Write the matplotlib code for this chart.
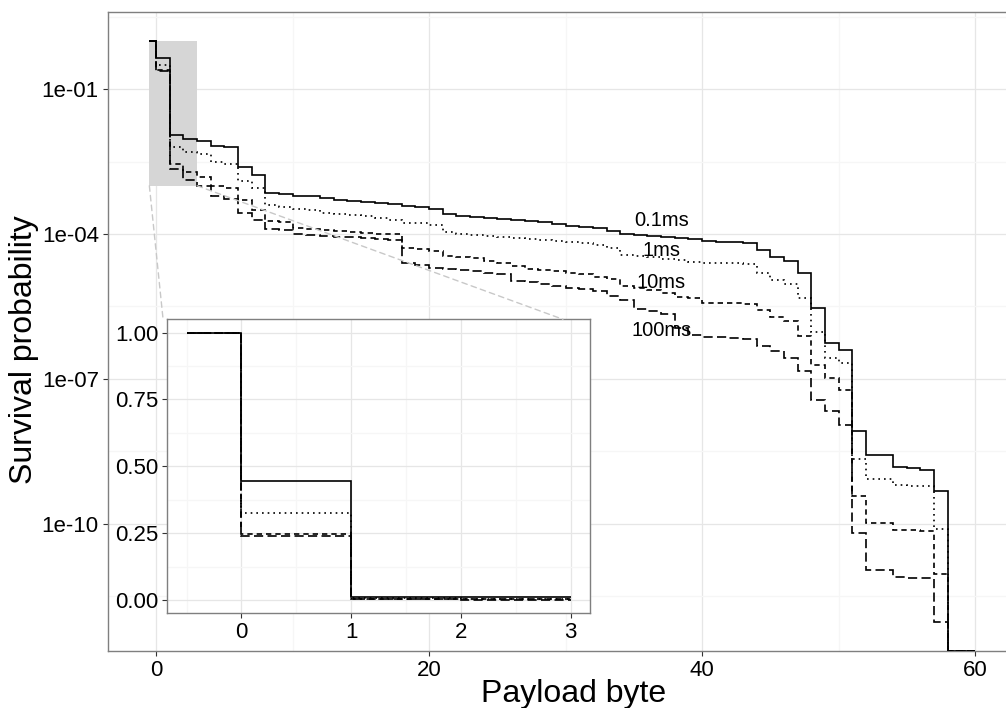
import numpy as np
import matplotlib
matplotlib.use("Agg")  # headless: write PNG without GUI backend
import matplotlib.pyplot as plt
from matplotlib.patches import Rectangle, ConnectionPatch
from matplotlib.ticker import FixedLocator, NullFormatter

plt.rcParams["font.family"] = ["Liberation Sans", "DejaVu Sans"]

# step edges: first step starts at -0.5, one step per payload byte, last step to 60
byte_edges = np.r_[-0.5, np.arange(0, 59), 60]

# log10 of survival probability per step; -inf = 0
log_surv_01ms = [
    0, -0.352, -1.94, -2.04, -2.07, -2.18, -2.19, -2.61, -2.78, -3.15,
    -3.18, -3.21, -3.22, -3.26, -3.29, -3.32, -3.34, -3.36, -3.38, -3.43,
    -3.44, -3.49, -3.59, -3.62, -3.64, -3.66, -3.69, -3.72, -3.74, -3.76,
    -3.80, -3.83, -3.86, -3.88, -3.94, -4.01, -4.03, -4.05, -4.07, -4.09,
    -4.11, -4.15, -4.16, -4.17, -4.19, -4.34, -4.47, -4.56, -4.81, -5.54,
    -6.25, -6.40, -8.09, -8.57, -8.57, -8.82, -8.85, -8.89, -9.32, -np.inf,
]
log_surv_1ms = [
    0, -0.489, -2.19, -2.30, -2.35, -2.51, -2.54, -2.91, -3.04, -3.40,
    -3.44, -3.49, -3.51, -3.56, -3.59, -3.61, -3.63, -3.66, -3.70, -3.77,
    -3.78, -3.81, -3.96, -3.99, -4.02, -4.05, -4.07, -4.09, -4.11, -4.13,
    -4.14, -4.16, -4.18, -4.22, -4.28, -4.44, -4.45, -4.48, -4.51, -4.54,
    -4.57, -4.60, -4.61, -4.61, -4.63, -4.81, -4.95, -5.04, -5.33, -6.02,
    -6.57, -6.68, -8.67, -9.08, -9.08, -9.20, -9.23, -9.23, -10.12, -np.inf,
]
log_surv_10ms = [
    0, -0.611, -2.54, -2.71, -2.82, -3.00, -3.04, -3.30, -3.51, -3.73,
    -3.75, -3.88, -3.90, -3.92, -3.94, -3.95, -3.97, -3.99, -4.01, -4.30,
    -4.32, -4.35, -4.46, -4.48, -4.50, -4.56, -4.60, -4.66, -4.72, -4.74,
    -4.77, -4.80, -4.83, -4.90, -4.93, -5.08, -5.12, -5.16, -5.22, -5.30,
    -5.33, -5.42, -5.42, -5.43, -5.44, -5.58, -5.71, -5.81, -6.11, -6.72,
    -6.99, -7.23, -9.43, -9.99, -9.99, -10.13, -10.14, -10.15, -11.05, -np.inf,
]
log_surv_100ms = [
    0, -0.62, -2.66, -2.89, -3.01, -3.21, -3.28, -3.56, -3.72, -3.90,
    -3.92, -4.00, -4.02, -4.04, -4.06, -4.07, -4.09, -4.10, -4.12, -4.60,
    -4.64, -4.70, -4.73, -4.75, -4.77, -4.80, -4.82, -4.97, -5.00, -5.04,
    -5.07, -5.11, -5.14, -5.18, -5.28, -5.37, -5.56, -5.60, -5.65, -5.94,
    -6.10, -6.14, -6.14, -6.15, -6.18, -6.32, -6.43, -6.56, -6.83, -7.43,
    -7.66, -7.96, -10.19, -10.96, -10.96, -11.11, -11.12, -11.13, -12.03, -np.inf,
]

series_names = ["0.1ms", "1ms", "10ms", "100ms"]
series_logs = [log_surv_01ms, log_surv_1ms, log_surv_10ms, log_surv_100ms]
# label placement (x, log10 y) next to each curve
label_x = [37, 37, 37, 37]
label_logy = [-3.72, -4.34, -5.01, -5.99]

y_tick_exps = [-1, -4, -7, -10]
y_tick_labels = ["1e-01", "1e-04", "1e-07", "1e-10"]
x_ticks = [0, 20, 40, 60]
inset_y_ticks = [0.0, 0.25, 0.5, 0.75, 1.0]
inset_x_ticks = [0, 1, 2, 3]
n_inset_steps = 4  # steps drawn in the zoomed inset (-0.5 .. 3)

LOG_LO, LOG_HI = -12.64, 0.60
line_styles = [
    "-",
    (0, (1.0, 2.4)),
    (0, (3.2, 2.4)),
    (0, (5.5, 2.6)),
]
LW = 1.2
BORDER = "#7f7f7f"
GRID_MAJOR = "#e6e6e6"
GRID_MINOR = "#f6f6f6"


def style_axes(ax):
    ax.set_facecolor("white")
    for sp in ax.spines.values():
        sp.set_color(BORDER)
        sp.set_linewidth(1.0)
    ax.grid(which="major", color=GRID_MAJOR, linewidth=0.9)
    ax.grid(which="minor", color=GRID_MINOR, linewidth=0.9)
    ax.set_axisbelow(True)
    ax.tick_params(which="major", length=3.6, width=0.8, color="#333333",
                   labelsize=16, labelcolor="black", pad=3)
    ax.tick_params(which="minor", length=0)


fig = plt.figure(figsize=(10.06, 7.08), dpi=100)
W, H = 1006.0, 708.0
# main panel (right side runs past the figure edge, like the reference)
px_l, px_r, px_t, px_b = 108, 1016.4, 12, 651
ax = fig.add_axes([px_l / W, 1 - px_b / H, (px_r - px_l) / W, (px_b - px_t) / H])
ax.set_yscale("log")
ax.set_xlim(-3.53, 63.03)
ax.set_ylim(10 ** LOG_LO, 10 ** LOG_HI)
style_axes(ax)
ax.yaxis.set_major_locator(FixedLocator([10.0 ** e for e in y_tick_exps]))
ax.yaxis.set_major_formatter(plt.FixedFormatter(y_tick_labels))
ax.yaxis.set_minor_locator(FixedLocator([10.0 ** (e + 1.5) for e in y_tick_exps] + [10 ** -11.5]))
ax.yaxis.set_minor_formatter(NullFormatter())
ax.xaxis.set_major_locator(FixedLocator(x_ticks))
ax.xaxis.set_minor_locator(FixedLocator([10, 30, 50]))

# zoom region
ax.add_patch(Rectangle((-0.5, 1e-3), 3.5, 1 - 1e-3, facecolor="#d6d6d6",
                       edgecolor="none", zorder=1))

floor = 10 ** LOG_LO
for logs, ls in zip(series_logs, line_styles):
    vals = 10.0 ** np.asarray(logs, dtype=float)
    vals = np.where(vals > 0, vals, floor)  # zero survival drawn on the panel floor
    ax.stairs(vals, byte_edges, baseline=None, color="black", linewidth=LW,
              linestyle=ls, zorder=3)

for name, lx, ly in zip(series_names, label_x, label_logy):
    ax.text(lx, 10 ** ly, name, ha="center", va="center", fontsize=14.5, zorder=4)

ax.set_xlabel("Payload byte", fontsize=23)
ax.set_ylabel("Survival probability", fontsize=23)
ax.xaxis.set_label_coords((573.5 - px_l) / (px_r - px_l), (px_b - 679) / (px_b - px_t))
ax.yaxis.set_label_coords((39 - px_l) / (px_r - px_l), (px_b - 350) / (px_b - px_t))

# inset with linear y
ix_l, ix_r, ix_t, ix_b = 167.3, 590, 319.3, 613.3
axin = fig.add_axes([ix_l / W, 1 - ix_b / H, (ix_r - ix_l) / W, (ix_b - ix_t) / H])
axin.set_xlim(-0.675, 3.175)
axin.set_ylim(-0.05, 1.05)
style_axes(axin)
axin.set_yticks(inset_y_ticks)
axin.set_yticklabels([f"{v:.2f}" for v in inset_y_ticks])
axin.set_xticks(inset_x_ticks)
axin.yaxis.set_minor_locator(FixedLocator([0.125, 0.375, 0.625, 0.875]))
axin.xaxis.set_minor_locator(FixedLocator([-0.5, 0.5, 1.5, 2.5]))
for logs, ls in zip(series_logs, line_styles):
    vals = 10.0 ** np.asarray(logs[:n_inset_steps], dtype=float)
    axin.stairs(vals, byte_edges[:n_inset_steps + 1], baseline=None, color="black",
                linewidth=LW, linestyle=ls, zorder=3)

# dashed guides from the zoom box to the inset
for xy_main, xy_in in [((-0.5, 1e-3), (-0.01, 1.0)), ((3.0, 1e-3), (0.936, 1.0))]:
    con = ConnectionPatch(xyA=xy_main, coordsA=ax.transData, xyB=xy_in,
                          coordsB=axin.transAxes, color="#c8c8c8", linewidth=1.0,
                          linestyle=(0, (4, 3)), zorder=2)
    fig.add_artist(con)

fig.savefig("out.png", dpi=100)
